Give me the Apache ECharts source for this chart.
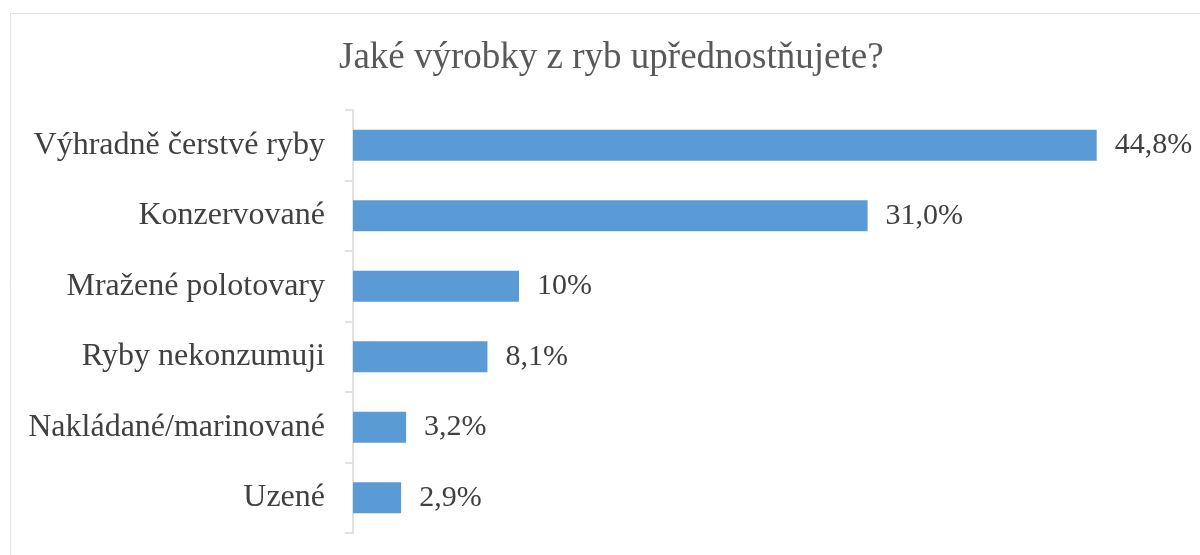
<!DOCTYPE html>
<html>
<head>
<meta charset="utf-8">
<script src="https://cdn.jsdelivr.net/npm/echarts@6/dist/echarts.min.js"></script>
<style>
  html, body { margin: 0; padding: 0; background: #fff; }
  #chart { width: 1200px; height: 555px; }
</style>
</head>
<body>
<div id="chart"></div>
<script>
// categories listed bottom to top (category axis on y starts at the bottom)
const categories = ['Uzené', 'Nakládané/marinované', 'Ryby nekonzumuji', 'Mražené polotovary', 'Konzervované', 'Výhradně čerstvé ryby'];
const values = [2.9, 3.2, 8.1, 10, 31.0, 44.8];
const valueLabels = ['2,9%', '3,2%', '8,1%', '10%', '31,0%', '44,8%'];

let chart = echarts.init(document.getElementById('chart'));
chart.setOption({
    backgroundColor: '#fff',
    title: {
        text: 'Jaké výrobky z ryb upřednostňujete?',
        left: 334,
        top: 35,
        textStyle: {
            fontFamily: 'Liberation Serif',
            fontSize: 37,
            fontWeight: 'normal',
            color: '#595959'
        }
    },
    graphic: [{
        type: 'rect',
        shape: {x: 10.5, y: 13.5, width: 1200, height: 600},
        style: {fill: 'none', stroke: '#e0e0e0', lineWidth: 1},
        silent: true
    }],
    grid: {
        left: 353,
        right: 17,
        top: 110,
        bottom: 22
    },
    xAxis: {
        type: 'value',
        min: 0,
        max: 50,
        show: false
    },
    yAxis: {
        type: 'category',
        data: categories,
        axisLine: {lineStyle: {color: '#d9d9d9', width: 1.5}},
        axisTick: {show: true, length: 8, lineStyle: {color: '#d9d9d9', width: 1.5}},
        axisLabel: {
            margin: 28,
            fontFamily: 'Liberation Serif',
            fontSize: 32,
            color: '#404040'
        },
        splitLine: {show: false}
    },
    series: [{
        type: 'bar',
        data: values,
        barWidth: 31,
        itemStyle: {color: '#5b9bd5'},
        label: {
            show: true,
            position: 'right',
            distance: 18,
            fontFamily: 'Liberation Serif',
            fontSize: 30,
            color: '#404040',
            formatter: function (p) {
                return valueLabels[p.dataIndex];
            }
        }
    }]
});
</script>
</body>
</html>
